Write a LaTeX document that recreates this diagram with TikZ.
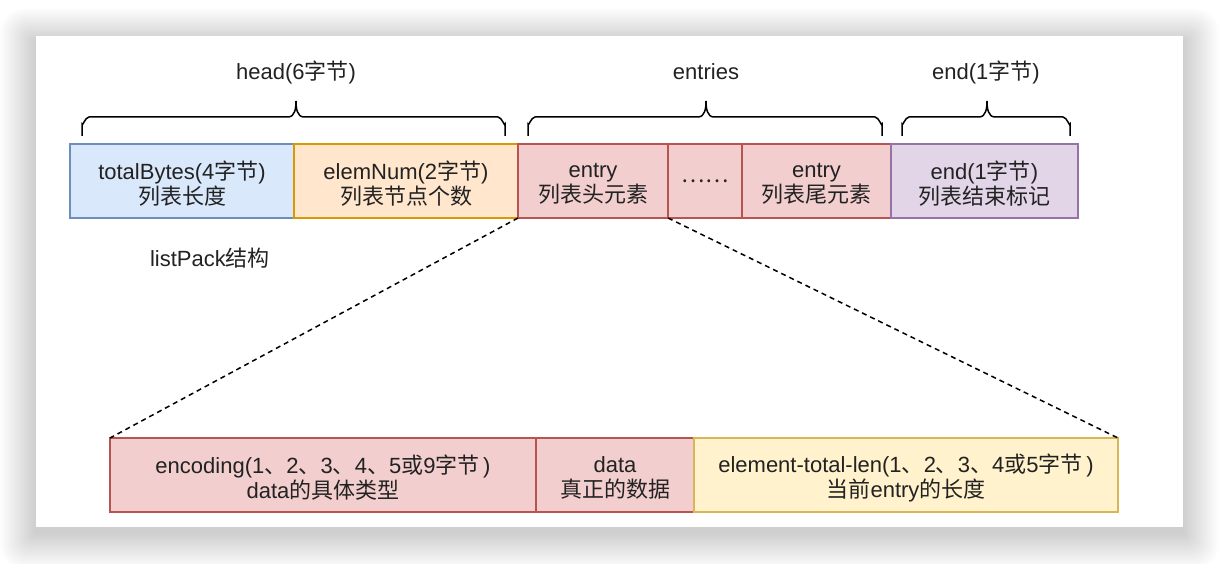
\documentclass[tikz,border=0pt]{standalone}
\usepackage{fontspec}
\setmainfont{Liberation Sans}
\newfontfamily\cjk{Noto Sans CJK SC}
\newcommand\zh[1]{{\cjk #1}}
\definecolor{bluef}{HTML}{DAE8FC}\definecolor{blued}{HTML}{6C8EBF}
\definecolor{orgf}{HTML}{FFE6CC}\definecolor{orgd}{HTML}{D79B00}
\definecolor{redf}{HTML}{F2CFCE}\definecolor{redd}{HTML}{B85450}
\definecolor{purf}{HTML}{E1D5E7}\definecolor{purd}{HTML}{9673A6}
\definecolor{yelf}{HTML}{FFF2CC}\definecolor{yeld}{HTML}{D6B656}
\definecolor{txt}{HTML}{222222}
\tikzset{
  cell/.style={draw, line width=1.3pt, inner sep=0pt, outer sep=0pt, minimum height=74pt},
  ctext/.style={inner sep=0pt, align=center, text=txt, font=\fontsize{22}{25}\selectfont, yshift=-3pt},
  lbl/.style={inner sep=0pt, text=txt, font=\fontsize{22}{25}\selectfont},
  brace/.style={line width=1.5pt, black},
  link/.style={draw=black, line width=1.5pt, dash pattern=on 5pt off 4pt}
}
\begin{document}
\begin{tikzpicture}[x=1pt,y=-1pt]
\useasboundingbox (0,0) rectangle (1220,564);
\fill[white] (0,0) rectangle (1220,564);
% shadow
\foreach \i in {1,...,24}{
  \fill[black, opacity=0.006, rounded corners=\i pt] (36-\i*1.5,36-\i*1.4+6) rectangle (1183+\i*1.5,527+\i*1.5+6);
}
\fill[white] (36,36) rectangle (1183,527);

% top row
\node[cell, fill=bluef, draw=blued, minimum width=224pt, label={[ctext]center:{totalBytes(4\zh{字节})\\\zh{列表长度}}}] (tb) at (182,181) {};
\node[cell, fill=orgf, draw=orgd, minimum width=224pt, label={[ctext]center:{elemNum(2\zh{字节})\\\zh{列表节点个数}}}] (en) at (406,181) {};
\node[cell, fill=redf, draw=redd, minimum width=150pt, label={[ctext]center:{entry\\\zh{列表头元素}}}] (e1) at (593,181) {};
\node[cell, fill=redf, draw=redd, minimum width=74pt, label={[ctext, yshift=3pt]center:{\zh{……}}}] (dots) at (705,181) {};
\node[cell, fill=redf, draw=redd, minimum width=149pt, label={[ctext]center:{entry\\\zh{列表尾元素}}}] (e2) at (816.5,181) {};
\node[cell, fill=purf, draw=purd, minimum width=187pt, label={[ctext]center:{end(1\zh{字节})\\\zh{列表结束标记}}}] (endb) at (984.5,181) {};

% bottom row
\node[cell, fill=redf, draw=redd, minimum width=426pt, label={[ctext]center:{encoding(1\zh{、}2\zh{、}3\zh{、}4\zh{、}5\zh{或}9\zh{字节}\,)\\data\zh{的具体类型}}}] (enc) at (323,475) {};
\node[cell, fill=redf, draw=redd, minimum width=158pt, label={[ctext]center:{data\\\zh{真正的数据}}}] (data) at (615,475) {};
\node[cell, fill=yelf, draw=yeld, minimum width=424pt, label={[ctext]center:{element-total-len(1\zh{、}2\zh{、}3\zh{、}4\zh{或}5\zh{字节}\,)\\\zh{当前}entry\zh{的长度}}}] (etl) at (906,475) {};

% labels
\node[lbl] (lhead) at (296,72) {head(6\zh{字节})};
\node[lbl] (lent) at (706,72) {entries};
\node[lbl] (lend) at (986,72) {end(1\zh{字节})};
\node[lbl] (lpack) at (210,258) {listPack\zh{结构}};

% braces
\foreach \a/\m/\b in {82/296/505, 528/706/882, 902/987/1070}{
  \draw[brace] (\a,136) -- (\a,124) to[out=-90,in=180] (\a+7,117) -- (\m-8,117)
     to[out=0,in=-90] (\m,101) to[out=-90,in=180] (\m+8,117) -- (\b-7,117)
     to[out=0,in=-90] (\b,124) -- (\b,136);
}

% dashed links
\draw[link] (e1.south west) -- (enc.north west);
\draw[link] (e1.south east) -- (etl.north east);
\end{tikzpicture}
\end{document}
